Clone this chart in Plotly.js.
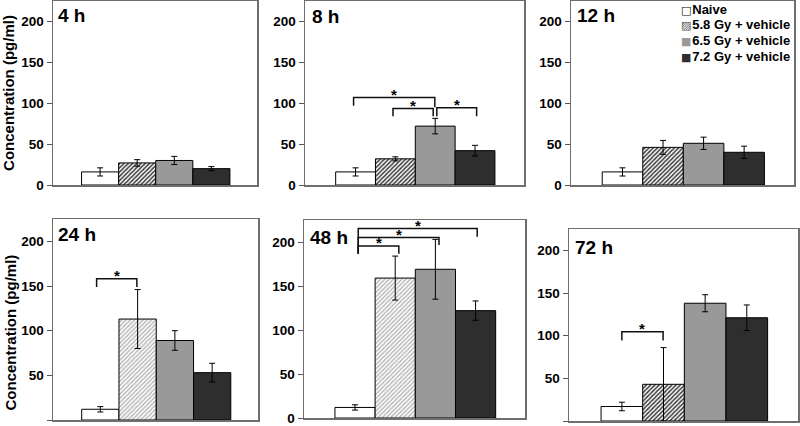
<!DOCTYPE html>
<html>
<head>
<meta charset="utf-8">
<script src="https://cdn.plot.ly/plotly-3.0.1.min.js"></script>
<style>html,body{margin:0;padding:0;background:#fff;}#chart{width:800px;height:426px;}</style>
</head>
<body>
<div id="chart"></div>
<script>
// ---- data ----
const groups = ['Naive', '5.8 Gy + vehicle', '6.5 Gy + vehicle', '7.2 Gy + vehicle'];
const timepoints = ['4 h', '8 h', '12 h', '24 h', '48 h', '72 h'];

const mean4h  = [16, 27, 30, 20];
const err4h   = [5, 4, 5, 2.5];
const mean8h  = [16, 32, 72, 42];
const err8h   = [5, 2.5, 9.5, 6.5];
const mean12h = [16, 46, 51, 40];
const err12h  = [5, 8.5, 7.5, 7.5];
const mean24h = [12, 113, 89, 53];
const err24h  = [3, 33, 11, 10.5];
const mean48h = [12, 159, 169, 122];
const err48h  = [3, 25, 34, 11];
const mean72h = [17, 43, 138, 121];
const err72h  = [5, 43, 10, 15];

// significance brackets: [fromPos, toPos, barY, leftLegBottom, rightLegBottom]
const sig4h  = [];
const sig8h  = [[0.95, 2.99, 107, 97, 95], [1.94, 2.95, 93.5, 84, 84], [3.04, 4.04, 94.5, 84, 84]];
const sig12h = [];
const sig24h = [[0.9, 1.98, 158, 149, 149]];
const sig48h = [[1.08, 2.09, 195.5, 186.7, 186.7], [1.08, 3.09, 205, 186.7, 196.6], [1.08, 4.04, 215.2, 186.7, 206]];
const sig72h = [[1.0, 1.99, 104.5, 94.3, 94.3]];

const means = [mean4h, mean8h, mean12h, mean24h, mean48h, mean72h];
const errs  = [err4h, err8h, err12h, err24h, err48h, err72h];
const sigs  = [sig4h, sig8h, sig12h, sig24h, sig48h, sig72h];

// ---- layout geometry (pixels in 800x426 page) ----
const W = 800, H = 426;
const boxes = [
  [53, 257, 1, 185], [305, 524, 1, 185], [571, 794, 1, 185],
  [53, 258, 219, 420], [304, 525, 220, 418], [569, 798, 229, 421]
];
const labelPos = [[56, 16], [310, 16.5], [575, 16], [56, 234], [308, 238], [573, 247.5]];

const FONT = 'Arial, "Liberation Sans", sans-serif';
const fills = ['#ffffff', '#ffffff', '#999999', '#2e2e2e'];
const darkHatch = {shape: '/', fgcolor: '#3a3a3a', bgcolor: '#ffffff', size: 3, solidity: 0.5};
const lightHatch = {shape: '/', fgcolor: '#b5b5b5', bgcolor: '#ffffff', size: 3, solidity: 0.45};
const lightPanels = [3, 4];

const traces = [];
const layout = {
  width: W, height: H,
  margin: {l: 0, r: 0, t: 0, b: 0},
  paper_bgcolor: '#ffffff', plot_bgcolor: '#ffffff',
  showlegend: false,
  barmode: 'overlay',
  font: {family: FONT, color: '#000'},
  shapes: [], annotations: []
};

const titleFont = {family: FONT, size: 15, weight: 'bold', color: '#000'};

for (let p = 0; p < 6; p++) {
  const sfx = p === 0 ? '' : String(p + 1);
  const [x0, x1, yt, yb] = boxes[p];
  for (let g = 0; g < groups.length; g++) {
    const tr = {
      type: 'bar', name: groups[g],
      x: [g + 1], y: [means[p][g]], width: [1],
      xaxis: 'x' + sfx, yaxis: 'y' + sfx,
      marker: {color: fills[g], line: {color: '#000', width: 1}},
      error_y: {type: 'data', array: [errs[p][g]], visible: true, color: '#000', thickness: 1, width: 3},
      hoverinfo: 'name+y'
    };
    if (g === 1) tr.marker.pattern = lightPanels.includes(p) ? lightHatch : darkHatch;
    traces.push(tr);
  }
  layout['xaxis' + sfx] = {
    domain: [x0 / W, x1 / W], anchor: 'y' + sfx,
    range: [-0.27, 5.23], showticklabels: false, ticks: '',
    showgrid: false, zeroline: false, showline: true, mirror: true,
    linecolor: '#6e6e6e', linewidth: 1.5, fixedrange: true
  };
  const ya = {
    domain: [1 - yb / H, 1 - yt / H], anchor: 'x' + sfx,
    range: [0, 225], tickvals: [0, 50, 100, 150, 200],
    ticks: 'outside', ticklen: 5, tickcolor: '#555', tickwidth: 1,
    tickfont: {family: FONT, size: 13.5, weight: 'bold', color: '#000'},
    showgrid: false, zeroline: false, showline: true, mirror: true,
    linecolor: '#6e6e6e', linewidth: 1.5, fixedrange: true
  };
  if (p === 0) {
    ya.title = {text: 'Concentration (pg/ml)', font: titleFont, standoff: 4};
  }
  layout['yaxis' + sfx] = ya;

  // panel time label
  layout.annotations.push({
    xref: 'paper', yref: 'paper', x: labelPos[p][0] / W, y: 1 - labelPos[p][1] / H,
    xanchor: 'left', yanchor: 'middle', showarrow: false, text: timepoints[p],
    font: {family: FONT, size: 19, weight: 'bold', color: '#000'}
  });

  // significance brackets
  for (const s of sigs[p]) {
    const [a, b, y, yl, yr] = s;
    layout.shapes.push({
      type: 'path', xref: 'x' + sfx, yref: 'y' + sfx,
      path: `M ${a},${yl} L ${a},${y} L ${b},${y} L ${b},${yr}`,
      line: {color: '#111', width: 1.5}
    });
    layout.annotations.push({
      xref: 'x' + sfx, yref: 'y' + sfx, x: (a + b) / 2, y: y,
      xanchor: 'center', yanchor: 'bottom', yshift: -7, showarrow: false, text: '*',
      font: {family: FONT, size: 15, weight: 'bold', color: '#000'}
    });
  }
}

// y-axis title of the lower row (placed as in the original, slightly below centre)
layout.annotations.push({
  xref: 'paper', yref: 'paper', x: 9.5 / W, y: 1 - 333 / H,
  xanchor: 'center', yanchor: 'middle', textangle: -90, showarrow: false,
  text: 'Concentration (pg/ml)', font: titleFont
});

// legend drawn as text inside the 12 h panel
const legendSymbols = [
  '<span style="font-family:DejaVu Sans;font-size:11px;color:#000">□</span>',
  '<span style="font-family:DejaVu Sans;font-size:11px;color:#555">▨</span>',
  '<span style="font-family:DejaVu Sans;font-size:11px;color:#999">■</span>',
  '<span style="font-family:DejaVu Sans;font-size:11px;color:#2e2e2e">■</span>'
];
const legendY = [9.3, 24.5, 40.5, 56.5];
for (let g = 0; g < groups.length; g++) {
  layout.annotations.push({
    xref: 'paper', yref: 'paper', x: 679 / W, y: 1 - legendY[g] / H,
    xanchor: 'left', yanchor: 'middle', showarrow: false,
    text: legendSymbols[g] + '<span style="font-size:3px"> </span>' + groups[g],
    font: {family: FONT, size: 13, weight: 'bold', color: '#000'}
  });
}

Plotly.newPlot('chart', traces, layout, {displayModeBar: false, staticPlot: true});
</script>
</body>
</html>
